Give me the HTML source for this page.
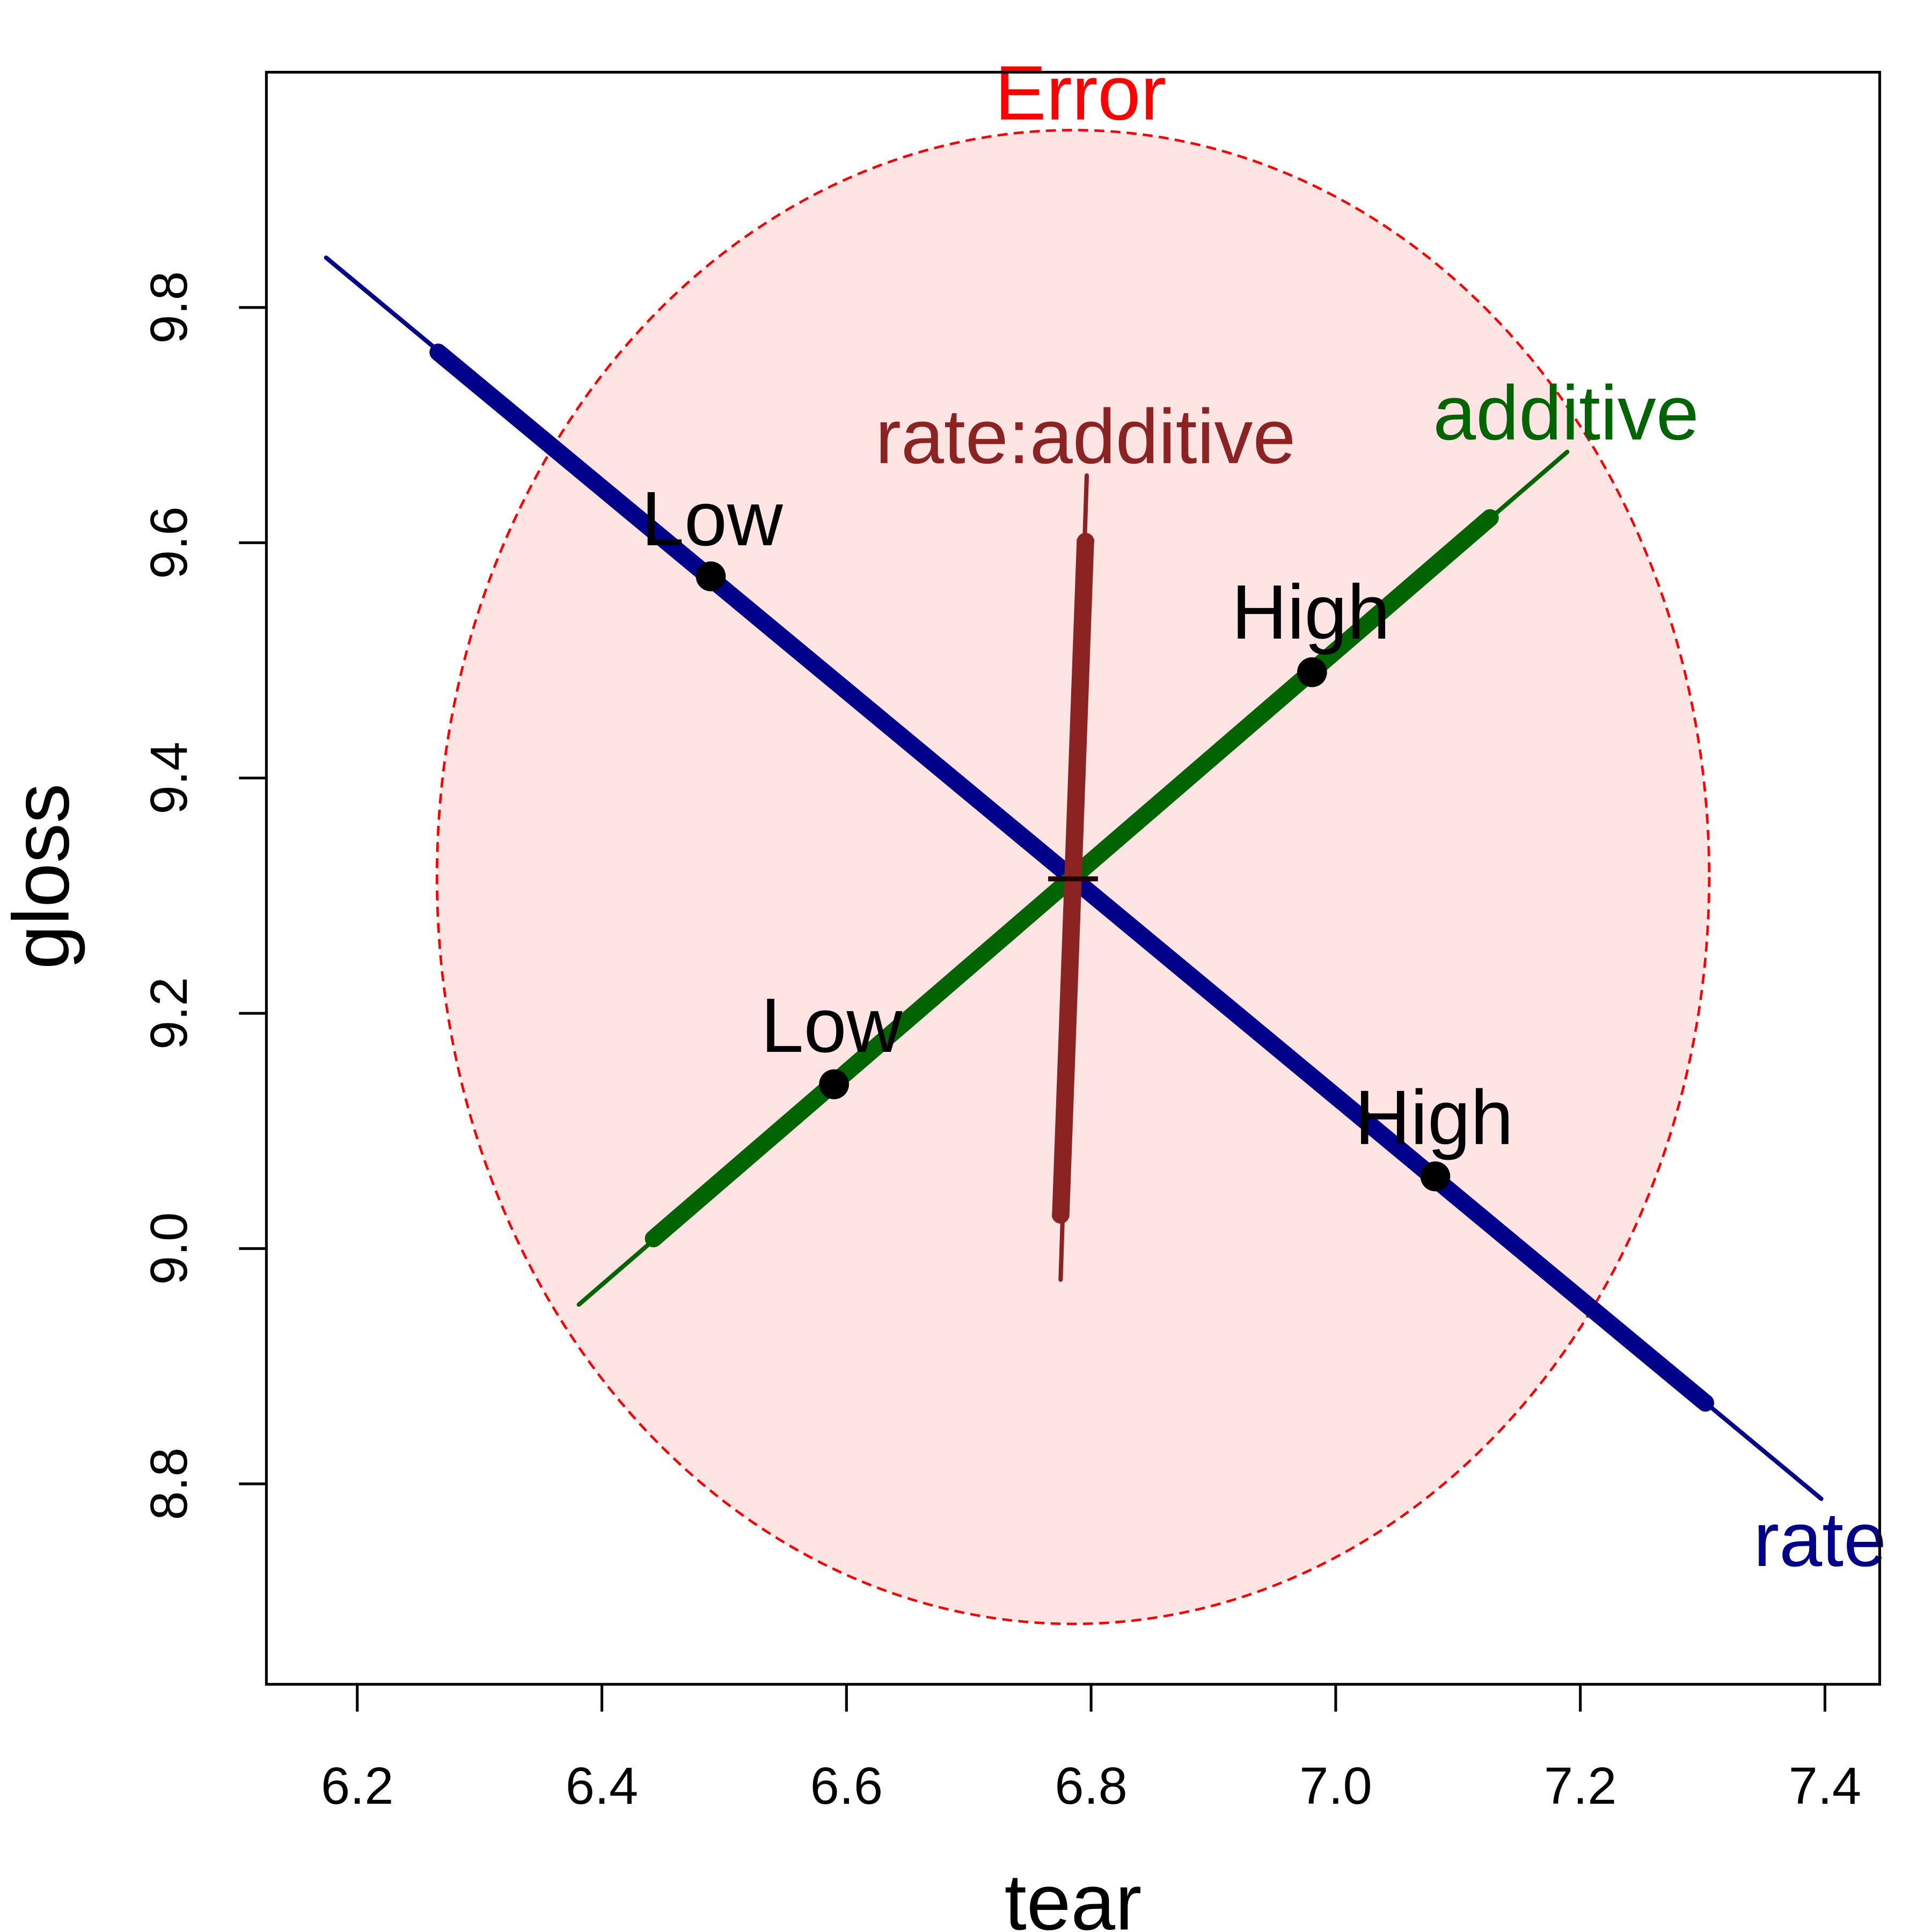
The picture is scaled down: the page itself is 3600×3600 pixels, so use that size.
<!DOCTYPE html>
<html><head><style>html,body{margin:0;padding:0;background:#fff}svg{display:block}</style></head>
<body>
<svg xmlns="http://www.w3.org/2000/svg" width="3600" height="3600" viewBox="0 0 1552 1552" font-family="Liberation Sans, Arial, sans-serif">
<rect width="1552" height="1552" fill="#fff"/>
<ellipse cx="862" cy="704.5" rx="511" ry="600" fill="#FFE4E4" stroke="#FF0000" stroke-width="2" stroke-dasharray="8,5"/>
<line x1="262" y1="207" x2="1463" y2="1204" stroke="#00008B" stroke-width="3.5" stroke-linecap="round"/>
<line x1="352" y1="283" x2="1370" y2="1127" stroke="#00008B" stroke-width="14" stroke-linecap="round"/>
<line x1="465" y1="1048" x2="1259" y2="363" stroke="#006400" stroke-width="3.5" stroke-linecap="round"/>
<line x1="525" y1="995" x2="1197" y2="416" stroke="#006400" stroke-width="14" stroke-linecap="round"/>
<line x1="852" y1="1028" x2="873" y2="382" stroke="#8B2323" stroke-width="3.5" stroke-linecap="round"/>
<polygon points="845,978 859,978 879,433 865,433" fill="#8B2323"/>
<circle cx="852" cy="976" r="7" fill="#8B2323"/><circle cx="872" cy="435" r="7" fill="#8B2323"/>
<line x1="842" y1="706" x2="882" y2="706" stroke="#200000" stroke-width="4"/>
<circle cx="571" cy="463" r="12" fill="#000"/>
<circle cx="1153" cy="945" r="12" fill="#000"/>
<circle cx="670" cy="871" r="12" fill="#000"/>
<circle cx="1054" cy="540" r="12" fill="#000"/>
<g font-size="62" text-anchor="middle">
<text x="572" y="438" fill="#000">Low</text>
<text x="1053" y="513" fill="#000">High</text>
<text x="668" y="845" fill="#000">Low</text>
<text x="1152" y="919" fill="#000">High</text>
<text x="868" y="96" fill="#FF0000">Error</text>
<text x="872" y="372" fill="#8B2323">rate:additive</text>
<text x="1258" y="353" fill="#006400">additive</text>
<text x="1462" y="1258" fill="#00008B">rate</text>
</g>
<rect x="214" y="58" width="1296" height="1295" fill="none" stroke="#000" stroke-width="2.2"/>
<g stroke="#000" stroke-width="2.2">
<line x1="287" y1="1353" x2="287" y2="1375"/><line x1="483.5" y1="1353" x2="483.5" y2="1375"/>
<line x1="680" y1="1353" x2="680" y2="1375"/><line x1="876.5" y1="1353" x2="876.5" y2="1375"/>
<line x1="1073" y1="1353" x2="1073" y2="1375"/><line x1="1269.5" y1="1353" x2="1269.5" y2="1375"/>
<line x1="1466" y1="1353" x2="1466" y2="1375"/>
<line x1="192" y1="247" x2="214" y2="247"/><line x1="192" y1="436" x2="214" y2="436"/>
<line x1="192" y1="625" x2="214" y2="625"/><line x1="192" y1="814" x2="214" y2="814"/>
<line x1="192" y1="1003" x2="214" y2="1003"/><line x1="192" y1="1192" x2="214" y2="1192"/>
</g>
<g font-size="42" text-anchor="middle" fill="#000">
<text x="287" y="1449">6.2</text><text x="483.5" y="1449">6.4</text><text x="680" y="1449">6.6</text>
<text x="876.5" y="1449">6.8</text><text x="1073" y="1449">7.0</text><text x="1269.5" y="1449">7.2</text>
<text x="1466" y="1449">7.4</text>
<text transform="translate(150,247) rotate(-90)">9.8</text>
<text transform="translate(150,436) rotate(-90)">9.6</text>
<text transform="translate(150,625) rotate(-90)">9.4</text>
<text transform="translate(150,814) rotate(-90)">9.2</text>
<text transform="translate(150,1003) rotate(-90)">9.0</text>
<text transform="translate(150,1192) rotate(-90)">8.8</text>
</g>
<g font-size="64" text-anchor="middle" fill="#000">
<text x="862" y="1550">tear</text>
<text transform="translate(55,704) rotate(-90)">gloss</text>
</g>
</svg>
</body></html>
